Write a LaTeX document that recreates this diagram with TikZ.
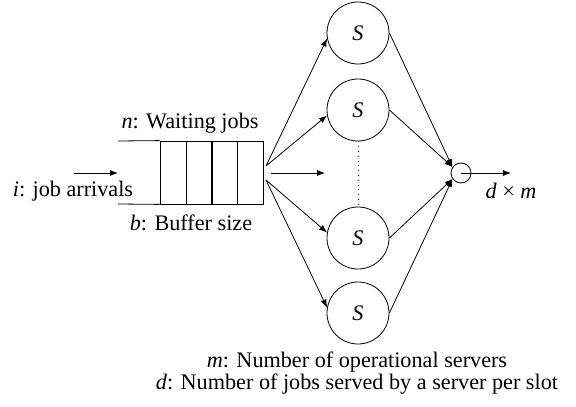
\documentclass[tikz,border=0pt]{standalone}
\usepackage{fontspec}
\setmainfont{Liberation Serif}
\usetikzlibrary{arrows.meta}
\tikzset{
  arr/.style={-{Latex[length=4pt,width=3pt]}},
  server/.style={circle,draw,minimum size=31pt,inner sep=0pt},
  cell/.style={draw,minimum width=12.9pt,minimum height=31.5pt,inner sep=0pt},
}
\begin{document}
\begin{tikzpicture}[x=0.5pt,y=-0.5pt,font=\fontsize{11.1}{13}\selectfont]
  \useasboundingbox (0,0) rectangle (576,406);

  % the buffer
  \foreach \k/\x in {1/173,2/199,3/224.5,4/250} {
    \node[cell] (c\k) at (\x,172.5) {};
  }
  \coordinate (qtop) at (118,141);
  \coordinate (qbot) at (118,204);
  \draw (qtop) -- (c1.north west);
  \draw (qbot) -- (c1.south west);
  \coordinate (inA) at (74,173);
  \coordinate (inB) at (118,173);
  \draw[arr] (inA) -- (inB);
  \node (arrivals) at (73,191) {\textit{i}: job arrivals};
  \node (waiting) at (190,123) {\textit{n}: Waiting jobs};
  \node (buffer) at (191,223) {\textit{b}: Buffer size};

  % servers
  \node[server] (s1) at (358,33) {\textit{S}};
  \node[server] (s2) at (358,110) {\textit{S}};
  \node[server] (s3) at (358,238) {\textit{S}};
  \node[server] (s4) at (358,313) {\textit{S}};
  \draw[dotted] (s2.south) -- (s3.north);

  \coordinate (fu) at (266,166);
  \coordinate (fd) at (266,180);
  \coordinate (fm) at (271,173);
  \coordinate (fmend) at (325,173);
  \draw[arr] (fu) -- (s1.190);
  \draw[arr] (fu) -- (s2.190);
  \draw[arr] (fm) -- (fmend);
  \draw[arr] (fd) -- (s3.170);
  \draw[arr] (fd) -- (s4.170);

  % merge point
  \node[circle,draw,minimum size=10pt,inner sep=0pt] (mg) at (461,173) {};
  \draw[arr] (s1.east) -- (mg.145);
  \draw[arr] (s2.east) -- (mg.145);
  \draw[arr] (s3.east) -- (mg.215);
  \draw[arr] (s4.east) -- (mg.215);
  \coordinate (out) at (511,173);
  \draw[arr] (mg.center) -- (out);
  \node (dm) at (511,191) {\textit{d} × \textit{m}};

  % legend
  \node[align=center,font=\fontsize{11.1}{10}\selectfont] (legend) at (357,373)
    {\textit{m}: Number of operational servers\\
     \textit{d}: Number of jobs served by a server per slot};
\end{tikzpicture}
\end{document}
